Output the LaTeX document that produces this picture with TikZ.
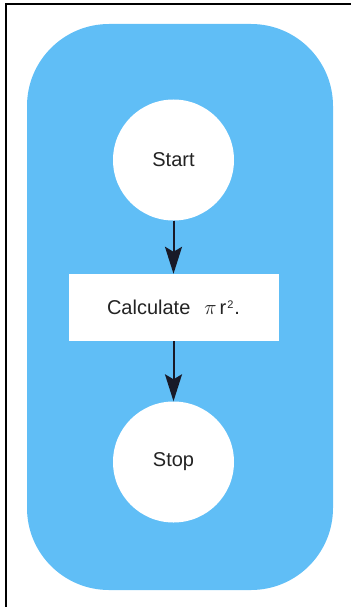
\documentclass[tikz,border=0pt]{standalone}
\usepackage{fontspec}
\setmainfont{Liberation Sans}
\usetikzlibrary{positioning, arrows.meta}
\definecolor{panelblue}{RGB}{96,190,246}
\definecolor{arrowink}{RGB}{24,26,40}
\definecolor{labelink}{RGB}{35,35,35}
\newcommand{\squared}{\raisebox{6.5pt}{\fontsize{11}{12}\selectfont 2}}
\tikzset{
  terminal/.style={circle, fill=white, minimum size=121pt, inner sep=0pt, text=labelink, font=\fontsize{20}{24}\selectfont},
  process/.style={rectangle, fill=white, minimum width=210pt, minimum height=67pt, inner sep=2pt, text=labelink, font=\fontsize{20}{24}\selectfont},
  flow/.style={-{Stealth[length=27pt, width=17pt, inset=5pt]}, line width=2pt, color=arrowink},
}

\begin{document}
\begin{tikzpicture}[x=1pt, y=-1pt]
\useasboundingbox (0,0) rectangle (351,607);
\draw[line width=1.3pt] (6,607) -- (6,4) -- (351,4);
\fill[panelblue, rounded corners=82pt] (27,24) rectangle (333,590);
\node[terminal] (start) at (173.5,160) {Start};
\node[process] (calc) at (173.5,307.5) {Calculate\hspace{14pt}$\pi$\hspace{3pt}r\hspace{1pt}\squared\hspace{1pt}.};
\node[terminal] (stop) at (173.5,462) {Stop};
\draw[flow] (start) -- (calc);
\draw[flow] (calc) -- (stop);
\end{tikzpicture}
\end{document}
